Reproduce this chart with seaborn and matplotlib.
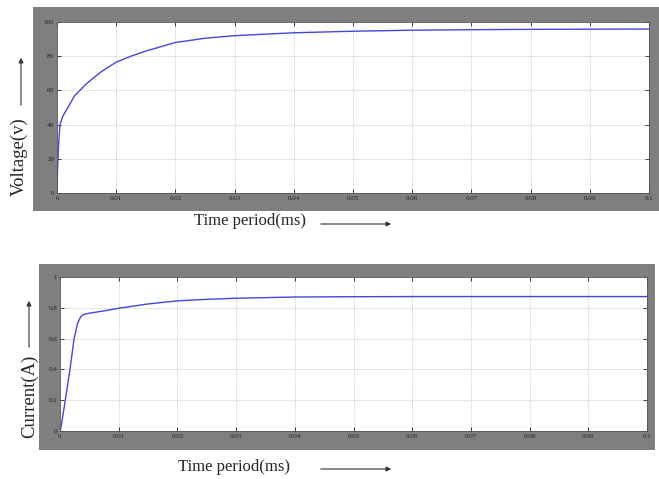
import matplotlib
matplotlib.use("Agg")
import matplotlib.pyplot as plt
import seaborn as sns
import pandas as pd
from matplotlib.patches import Rectangle, FancyArrowPatch

# ---- data ----
t_volt = [0, 0.0001, 0.0003, 0.0005, 0.001, 0.002, 0.003, 0.005, 0.0075, 0.01,
          0.0125, 0.015, 0.02, 0.025, 0.03, 0.04, 0.05, 0.06, 0.07, 0.08, 0.09, 0.1]
voltage = [0, 15, 30, 40, 45, 51, 57, 64, 71, 76.5,
           80, 83, 88, 90.5, 92, 93.7, 94.6, 95.2, 95.5, 95.7, 95.8, 95.9]

t_curr = [0, 0.0002, 0.0009, 0.0017, 0.0024, 0.003, 0.0035, 0.004, 0.005,
          0.0075, 0.01, 0.015, 0.02, 0.025, 0.03, 0.04, 0.05, 0.06, 0.1]
current = [0, 0.03, 0.2, 0.4, 0.6, 0.7, 0.74, 0.757, 0.765,
           0.78, 0.797, 0.825, 0.845, 0.855, 0.862, 0.870, 0.872, 0.873, 0.873]

x_ticks = [0, 0.01, 0.02, 0.03, 0.04, 0.05, 0.06, 0.07, 0.08, 0.09, 0.1]
x_ticklabels = ["0", "0.01", "0.02", "0.03", "0.04", "0.05", "0.06", "0.07", "0.08", "0.09", "0.1"]
v_ticks = [0, 20, 40, 60, 80, 100]
i_ticks = [0, 0.2, 0.4, 0.6, 0.8, 1]
i_ticklabels = ["0", "0.2", "0.4", "0.6", "0.8", "1"]

xlabel = "Time period(ms)"
vlabel = "Voltage(v)"
ilabel = "Current(A)"

df_v = pd.DataFrame({"t": t_volt, "v": voltage})
df_i = pd.DataFrame({"t": t_curr, "i": current})

sns.set_theme(style="white")
plt.rcParams["font.family"] = ["Liberation Serif", "DejaVu Serif"]

W, H = 659, 479
fig = plt.figure(figsize=(W / 100, H / 100), dpi=100)
fig.patch.set_facecolor("white")

GRAY = "#7f7f7f"
LINE = "#4646dc"


def px(x0, y0, x1, y1):
    return [x0 / W, 1 - y1 / H, (x1 - x0) / W, (y1 - y0) / H]


# gray frames
for (x0, y0, x1, y1) in [(33, 7, 659, 211), (39, 264, 655, 450)]:
    l, b, w, h = px(x0, y0, x1, y1)
    fig.patches.append(Rectangle((l, b), w, h, transform=fig.transFigure,
                                 facecolor=GRAY, edgecolor="none", zorder=-5))

ax1 = fig.add_axes(px(57, 22, 649, 193))
ax2 = fig.add_axes(px(60, 277, 647, 431))
ax1.set_zorder(3)
ax2.set_zorder(3)

sns.lineplot(data=df_v, x="t", y="v", ax=ax1, color=LINE, lw=1.0)
sns.lineplot(data=df_i, x="t", y="i", ax=ax2, color=LINE, lw=1.0)

for ax, yt, ytl, ylim in [(ax1, v_ticks, [str(v) for v in v_ticks], (0, 100)),
                          (ax2, i_ticks, i_ticklabels, (0, 1))]:
    ax.set_facecolor("white")
    ax.set_xlim(0, 0.1)
    ax.set_ylim(*ylim)
    ax.set_xticks(x_ticks)
    ax.set_xticklabels(x_ticklabels)
    ax.set_yticks(yt)
    ax.set_yticklabels(ytl)
    ax.grid(True, color="#c4c4c4", lw=0.6, ls=(0, (1, 1)))
    ax.tick_params(axis="both", direction="in", length=3, width=0.6,
                   labelsize=5, colors="#222222", pad=2,
                   bottom=True, left=True, top=True, right=True)
    ax.set_xlabel("")
    ax.set_ylabel("")
    for s in ax.spines.values():
        s.set_color("#555555")
        s.set_linewidth(0.6)

# axis labels as figure text
fig.text(250 / W, 1 - 221 / H, xlabel, ha="center", va="center", fontsize=12)
fig.text(234 / W, 1 - 467 / H, xlabel, ha="center", va="center", fontsize=12)
fig.text(19 / W, 1 - 157 / H, vlabel, ha="center", va="center", rotation=90, fontsize=13.5)
fig.text(30 / W, 1 - 396 / H, ilabel, ha="center", va="center", rotation=90, fontsize=13.5)

arrow = dict(arrowstyle="-|>", color="#333333", lw=0.8, mutation_scale=7)
for (xa, ya, xb, yb) in [(318, 224, 394, 224), (318, 469, 394, 469),
                         (21, 108, 21, 55), (29, 350, 29, 298)]:
    fig.add_artist(FancyArrowPatch(
        (xa / W, 1 - ya / H), (xb / W, 1 - yb / H), transform=fig.transFigure, **arrow))

fig.savefig("out.png", dpi=100)
